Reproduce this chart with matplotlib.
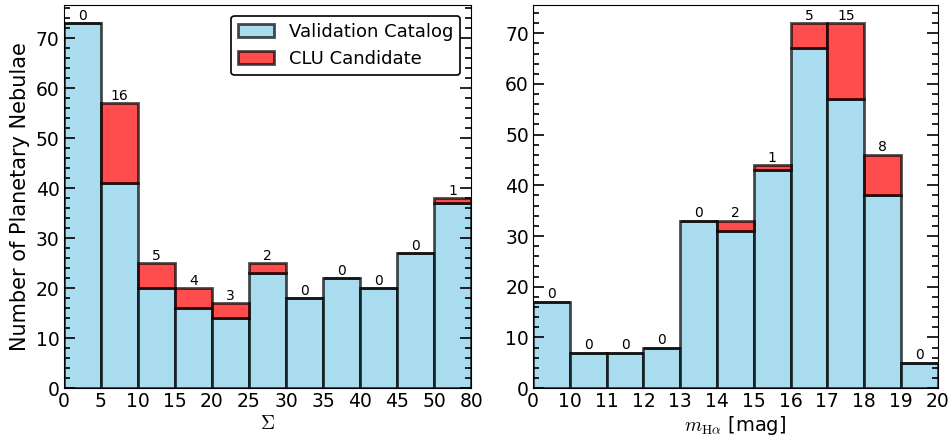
import numpy as np
import matplotlib.pyplot as plt
from matplotlib.ticker import MultipleLocator

plt.rcParams['mathtext.fontset'] = 'cm'

# Sigma histogram
sig_labels = ['0', '5', '10', '15', '20', '25', '30', '35', '40', '45', '50', '80']
sig_valid = [73, 41, 20, 16, 14, 23, 18, 22, 20, 27, 37]
sig_clu = [0, 16, 5, 4, 3, 2, 0, 0, 0, 0, 1]

# H-alpha magnitude histogram
mag_labels = ['0', '10', '11', '12', '13', '14', '15', '16', '17', '18', '19', '20']
mag_valid = [17, 7, 7, 8, 33, 31, 43, 67, 57, 38, 5]
mag_clu = [0, 0, 0, 0, 0, 2, 1, 5, 15, 8, 0]

fig = plt.figure(figsize=(9.52, 4.4), dpi=100)
ax1 = fig.add_axes([0.067, 0.118, 0.428, 0.871])
ax2 = fig.add_axes([0.560, 0.118, 0.425, 0.871])


def draw(ax, labels, valid, clu):
    x = np.arange(len(valid))
    valid = np.array(valid)
    clu = np.array(clu)
    ax.bar(x, valid, width=1, align='edge', color='skyblue', edgecolor='black',
           linewidth=2, alpha=0.7, label='Validation Catalog')
    ax.bar(x, clu, width=1, bottom=valid, align='edge', color='red', edgecolor='black',
           linewidth=2, alpha=0.7, label='CLU Candidate')
    for xi, v, c in zip(x, valid, clu):
        ax.text(xi + 0.5, v + c + 0.1, str(c), ha='center', va='bottom', fontsize=10)
    ax.set_xticks(np.arange(len(labels)))
    ax.set_xticklabels(labels)
    ax.set_xlim(0, len(valid))
    ax.set_ylim(0, (valid + clu).max() * 1.05)
    ax.yaxis.set_major_locator(MultipleLocator(10))
    ax.yaxis.set_minor_locator(MultipleLocator(2))
    ax.tick_params(axis='y', which='both', direction='in', left=True, right=True)
    ax.tick_params(axis='y', which='major', length=8, width=1.2, pad=3)
    ax.tick_params(axis='y', which='minor', length=4, width=1.2)
    ax.tick_params(axis='x', direction='in', length=0, pad=3)
    ax.tick_params(labelsize=13.5)


draw(ax1, sig_labels, sig_valid, sig_clu)
draw(ax2, mag_labels, mag_valid, mag_clu)

ax1.set_xlabel(r'$\Sigma$', fontsize=14, labelpad=2)
ax1.set_ylabel('Number of Planetary Nebulae', fontsize=15, labelpad=4)
ax2.set_xlabel(r'$m_{\rm H\alpha}$ [mag]', fontsize=14, labelpad=2)

leg = ax1.legend(loc='upper right', fontsize=13, frameon=True, fancybox=True,
                 borderaxespad=0.6)
leg.get_frame().set_edgecolor('black')
leg.get_frame().set_linewidth(1.2)
leg.get_frame().set_alpha(1)

fig.savefig('out.png', dpi=100)
